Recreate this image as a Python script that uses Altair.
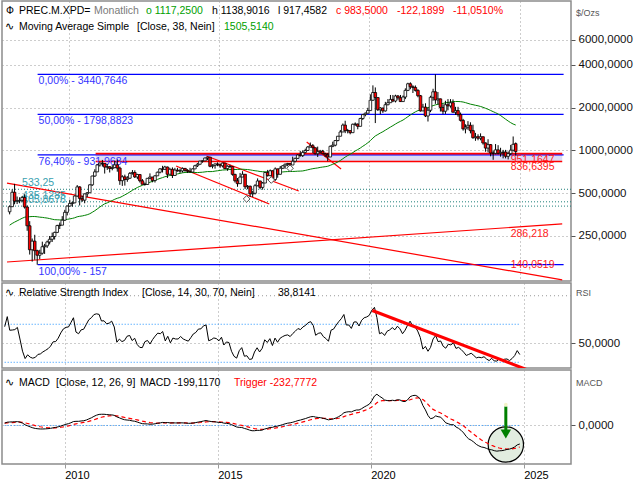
import altair as alt
import pandas as pd
import numpy as np

FONT = "Liberation Sans"

# ---------------- data ----------------
# monthly closes Jan 2004 - Dec 2007 (only used to warm up the indicators)
warmup_close = [
    224, 245, 280, 300, 247, 222, 215, 218, 212, 222, 207, 185,
    186, 189, 198, 200, 187, 187, 191, 192, 200, 237, 267, 254,
    290, 296, 340, 375, 365, 316, 324, 339, 316, 324, 336, 326,
    348, 350, 355, 372, 372, 364, 360, 336, 345, 372, 350, 370,
]

# monthly bars Jan 2008 - Nov 2024
bar_close = [
    402, 508, 440, 442, 446, 467, 400, 295, 200, 230, 197, 183,
    189, 210, 213, 227, 237, 248, 265, 296, 298, 323, 367, 406,
    424, 428, 478, 554, 460, 447, 495, 504, 573, 661, 707, 791,
    815, 811, 764, 768, 747, 757, 792, 752, 613, 652, 625, 638,
    690, 700, 651, 677, 612, 578, 576, 637, 650, 614, 663, 703,
    742, 737, 765, 680, 737, 667, 728, 718, 718, 748, 725, 714,
    705, 742, 781, 800, 842, 845, 885, 898, 774, 785, 804, 799,
    780, 815, 746, 775, 770, 679, 612, 584, 650, 680, 555, 560,
    495, 500, 565, 610, 550, 590, 700, 665, 720, 625, 742, 680,
    750, 780, 800, 810, 790, 840, 880, 930, 920, 970, 1000, 1058,
    1080, 1046, 949, 980, 990, 950, 930, 900, 1070, 1090, 1175, 1260,
    1350, 1510, 1380, 1380, 1335, 1530, 1535, 1480, 1680, 1790, 1830, 1910,
    2260, 2560, 2360, 1935, 1990, 1900, 2100, 2170, 2290, 2230, 2420, 2350,
    2210, 2380, 2650, 2950, 2810, 2780, 2650, 2430, 1900, 2020, 1750, 1920,
    2370, 2590, 2270, 2310, 2010, 1890, 2100, 2060, 2170, 1860, 1910, 1790,
    1630, 1420, 1460, 1505, 1380, 1230, 1250, 1220, 1250, 1130, 1040, 1100,
    960, 955, 1010, 955, 970, 975, 910, 950, 1005, 1105.69, 983.5,
]
bar_high = [
    410, 532, 582, 474, 468, 478, 492, 410, 318, 240, 255, 200,
    200, 228, 220, 232, 250, 264, 268, 300, 311, 345, 382, 410,
    450, 436, 482, 571, 560, 480, 498, 510, 577, 664, 738, 800,
    826, 858, 812, 805, 775, 789, 847, 863, 770, 670, 676, 660,
    705, 728, 725, 685, 680, 630, 595, 640, 690, 652, 670, 710,
    752, 780, 780, 770, 755, 760, 755, 755, 745, 760, 753, 738,
    755, 748, 792, 815, 845, 850, 890, 905, 899, 800, 810, 825,
    810, 820, 818, 786, 795, 775, 685, 640, 695, 715, 680, 571,
    566, 520, 580, 636, 612, 600, 705, 730, 735, 724, 760, 745,
    778, 789, 810, 818, 810, 905, 890, 940, 994, 1000, 1030, 1071,
    1138, 1110, 1045, 1065, 1010, 1010, 965, 960, 1085, 1153, 1186, 1266,
    1395, 1550, 1620, 1420, 1385, 1547, 1576, 1550, 1700, 1808, 1851, 1998,
    2485, 2875, 2780, 2300, 2020, 2000, 2200, 2300, 2460, 2460, 2470, 2460,
    2460, 2440, 2740, 3000, 3020, 2880, 2870, 2700, 2460, 2130, 2150, 2000,
    2430, 2720, 3440.76, 2580, 2320, 2120, 2240, 2300, 2300, 2290, 2030, 2030,
    1850, 1670, 1530, 1610, 1580, 1520, 1330, 1300, 1320, 1250, 1140, 1200,
    1110, 1000, 1110, 1090, 1045, 1010, 1010, 985, 1095, 1255, 1138.9016,
]
bar_low = [
    355, 400, 418, 420, 425, 432, 390, 272, 185, 165, 170, 157,
    172, 185, 187, 206, 218, 227, 236, 262, 280, 302, 320, 349,
    405, 402, 425, 473, 410, 435, 425, 470, 503, 563, 652, 705,
    770, 772, 688, 730, 700, 725, 750, 709, 573, 563, 566, 602,
    630, 676, 640, 628, 595, 577, 565, 575, 629, 597, 595, 670,
    690, 700, 730, 640, 680, 640, 665, 710, 695, 700, 708, 695,
    703, 700, 740, 765, 795, 820, 843, 856, 762, 748, 745, 775,
    755, 760, 740, 720, 755, 665, 595, 555, 585, 650, 535, 534,
    470, 470, 490, 560, 533, 530, 590, 655, 660, 608, 610, 643,
    677, 740, 744, 775, 760, 790, 825, 874, 905, 900, 955, 997,
    1050, 960, 935, 900, 953, 940, 900, 840, 950, 1055, 1070, 1160,
    1260, 1350, 1325, 1320, 1300, 1335, 1490, 1410, 1480, 1640, 1740, 1828,
    1920, 2230, 1560, 1900, 1800, 1840, 1880, 2080, 2200, 2190, 2180, 2275,
    2200, 2230, 2300, 2620, 2700, 2540, 2600, 2370, 1880, 1910, 1720, 1600,
    1860, 2240, 2130, 2110, 1880, 1800, 1810, 1920, 2000, 1850, 1780, 1730,
    1600, 1380, 1320, 1400, 1320, 1210, 1170, 1180, 1180, 1100, 980, 970,
    910, 860, 940, 940, 905, 880, 880, 865, 930, 985, 917.4582,
]
last_open = 1117.25

# Fibonacci levels
fib_levels = [3440.7646, 1798.8823, 931.9684, 157.0]
fib_labels = ["0,00% - 3440,7646", "50,00% - 1798,8823", "76,40% - 931,9684", "100,00% - 157"]
# resistance band
band_levels = [951.1647, 836.6395]
band_labels = ["951,1647", "836,6395"]
# dotted support levels
support_levels = [533.25, 435.1285, 405.8676]
support_labels = ["533,25", "435,1285", "405,8676"]
# trend lines (start date, start value, end date, end value)
trend_start = ["2007-12-14", "2007-12-14", "2013-07-29", "2014-08-03", "2017-12-02"]
trend_start_val = [589, 164, 777, 914, 1147]
trend_end = ["2026-06-03", "2026-06-03", "2016-09-04", "2017-08-28", "2019-01-24"]
trend_end_val = [122.6, 304, 420, 518, 740]
trend_value_labels = ["286,218", "140,0519"]
trend_value_at = [286.218, 140.0519]
# fractal markers
marker_dates = ["2015-12-04", "2016-09-28", "2017-05-14"]
marker_vals = [456, 620, 750]
# RSI trend line
rsi_trend_dates = ["2020-01-20", "2025-02-01"]
rsi_trend_vals = [84.5, 22.5]
# MACD annotation (circle centre, arrow from / to)
note_date = "2024-06-01"
note_circle_val = -205
note_arrow_vals = [205, -65]
note_head_val = -92
note_dot_val = 225

price_ticks = [250, 500, 1000, 2000, 4000, 6000]
year_ticks = [2010, 2015, 2020, 2025]

# ---------------- derived ----------------
closes_all = pd.Series(warmup_close + bar_close, dtype=float)
ma38 = closes_all.rolling(38).mean()
delta = closes_all.diff()
avg_g = delta.clip(lower=0).ewm(alpha=1 / 14, adjust=False).mean()
avg_l = (-delta.clip(upper=0)).ewm(alpha=1 / 14, adjust=False).mean()
rsi = 100 - 100 / (1 + avg_g / avg_l)
macd = closes_all.ewm(span=12, adjust=False).mean() - closes_all.ewm(span=26, adjust=False).mean()
trig = macd.ewm(span=9, adjust=False).mean()
nw = len(warmup_close)
n = len(bar_close)

dates = pd.date_range("2008-01-01", periods=n, freq="MS") + pd.Timedelta(days=14)
opens = list(closes_all.iloc[nw - 1:nw - 1 + n])
opens[-1] = last_open
df = pd.DataFrame({
    "date": dates,
    "open": opens,
    "close": bar_close,
    "high": bar_high,
    "low": bar_low,
    "ma": ma38.iloc[nw:].values,
    "rsi": rsi.iloc[nw:].values,
    "macd": macd.iloc[nw:].values,
    "trig": trig.iloc[nw:].values,
})
df["high"] = df[["high", "open", "close"]].max(axis=1)
df["low"] = df[["low", "open", "close"]].min(axis=1)
df["dir"] = np.where(df["close"] >= df["open"], "up", "down")
first_date, last_date = df["date"].iloc[0], df["date"].iloc[-1]

# ---------------- layout ----------------
W = 569
H_MAIN, H_RSI, H_MACD = 280, 85, 94
TS = 10.5  # text size
X_DOMAIN = [alt.DateTime(year=2007, month=12, date=14), alt.DateTime(year=2026, month=7, date=19)]
YT = [alt.DateTime(year=y, month=1, date=1) for y in year_ticks]
XS = alt.Scale(domain=X_DOMAIN, nice=False)
GRID = dict(grid=True, gridDash=[1, 3], gridColor="#9a9a9a", gridWidth=1)
LBL = "replace(format(datum.value, '.4f'), '.', ',')"

YS_MAIN = alt.Scale(type="log", domain=[120.5, 11290], nice=False)
YS_RSI = alt.Scale(domain=[24.0, 113.4], nice=False, zero=False)
YS_MACD = alt.Scale(domain=[-416, 599], nice=False, zero=False)

XAX_TOP = alt.Axis(values=YT, labels=False, ticks=False, domain=False, title=None, **GRID)
XAX_BOT = alt.Axis(values=YT, format="%Y", labelAlign="left", labelPadding=1, tickSize=4,
                   tickColor="#9a9a9a", domain=False, title=None, labelFont=FONT,
                   labelFontSize=11, labelColor="black", **GRID)


def yax(values):
    return alt.Axis(orient="right", values=values, labelExpr=LBL, tickSize=4, tickColor="#555",
                    labelPadding=3, domain=False, title=None, labelFont=FONT, labelFontSize=11.5,
                    labelColor="#111", **GRID)


YAX_MAIN = yax(price_ticks)
YAX_RSI = yax([50])
YAX_MACD = yax([0])


def txt(label, px, py, color="black", size=TS, align="left", baseline="middle"):
    return alt.Chart(pd.DataFrame({"label": [label]})).mark_text(
        align=align, baseline=baseline, font=FONT, fontSize=size, color=color
    ).encode(x=alt.value(px), y=alt.value(py), text="label:N")


def X(field, ax):
    return alt.X(field, type="temporal", scale=XS, axis=ax)


# ---------------- main panel ----------------
base = alt.Chart(df)


def YM(field):
    return alt.Y(field, type="quantitative", scale=YS_MAIN, axis=YAX_MAIN)


band = alt.Chart(pd.DataFrame({"x0": ["2010-11-25"], "x1": ["2026-06-03"],
                               "y0": [band_levels[1]], "y1": [band_levels[0]]})).mark_rect(
    color="#dcdcf6").encode(x=X("x0", XAX_TOP), x2="x1:T", y=YM("y0"), y2="y1:Q")

sup_df = pd.DataFrame({"lvl": support_levels, "label": support_labels, "d": ["2008-06-14"] * 3})
sup_lines = alt.Chart(sup_df).mark_rule(color="#1f7f7a", strokeDash=[1, 2], strokeWidth=1).encode(
    y=YM("lvl"))
sup_text = alt.Chart(sup_df).mark_text(align="left", baseline="bottom", dy=-1, font=FONT,
                                       fontSize=TS, color="#3a9fb0").encode(
    x=X("d", XAX_TOP), y=YM("lvl"), text="label:N")

fib_df = pd.DataFrame({"lvl": fib_levels, "label": fib_labels,
                       "x0": ["2008-12-20"] * 4, "x1": ["2026-06-20"] * 4})
fib_lines = alt.Chart(fib_df).mark_rule(color="#0000ff", strokeWidth=1.2).encode(
    x=X("x0", XAX_TOP), x2="x1:T", y=YM("lvl"))
fib_text = alt.Chart(fib_df).mark_text(align="left", baseline="top", dx=1, dy=2, font=FONT,
                                       fontSize=TS, color="#3535ff").encode(
    x=X("x0", XAX_TOP), y=YM("lvl"), text="label:N")

band_df = pd.DataFrame({"lvl": band_levels, "label": band_labels,
                        "x0": ["2010-11-25"] * 2, "x1": ["2026-06-03"] * 2, "lx": ["2024-09-15"] * 2})
band_lines = alt.Chart(band_df).mark_rule(color="#ff0000", strokeWidth=1.6).encode(
    x=X("x0", XAX_TOP), x2="x1:T", y=YM("lvl"))
band_text = alt.Chart(band_df).mark_text(align="left", baseline="top", dy=1, font=FONT,
                                         fontSize=TS, color="#ff2020").encode(
    x=X("lx", XAX_TOP), y=YM("lvl"), text="label:N")

tr_df = pd.DataFrame({"x0": trend_start, "y0": trend_start_val, "x1": trend_end, "y1": trend_end_val})
trend_lines = alt.Chart(tr_df).mark_rule(color="#ff0000", strokeWidth=1.2, clip=True).encode(
    x=X("x0", XAX_TOP), x2="x1:T", y=YM("y0"), y2="y1:Q")
tv_df = pd.DataFrame({"v": trend_value_at, "label": trend_value_labels, "lx": ["2024-09-15"] * 2})
tv_text_top = alt.Chart(tv_df.iloc[:1]).mark_text(align="left", baseline="top", dy=1, font=FONT,
                                                  fontSize=TS, color="#ff2020").encode(
    x=X("lx", XAX_TOP), y=YM("v"), text="label:N")
tv_text_bot = alt.Chart(tv_df.iloc[1:]).mark_text(align="left", baseline="bottom", dy=-2, font=FONT,
                                                  fontSize=TS, color="#ff2020").encode(
    x=X("lx", XAX_TOP), y=YM("v"), text="label:N")

ma_line = base.mark_line(color="#008000", strokeWidth=1).encode(x=X("date", XAX_TOP), y=YM("ma"))
wicks = base.mark_rule(color="black", strokeWidth=1).encode(
    x=X("date", XAX_TOP), y=YM("low"), y2="high:Q")
bodies = base.mark_bar(size=2.6, stroke="black", strokeWidth=0.8).encode(
    x=X("date", XAX_TOP), y=YM("open"), y2="close:Q",
    fill=alt.Fill("dir:N", scale=alt.Scale(domain=["up", "down"], range=["white", "#ff0000"]), legend=None))
markers = alt.Chart(pd.DataFrame({"d": marker_dates, "v": marker_vals})).mark_point(
    shape="diamond", filled=True, fill="white", stroke="#505050", strokeWidth=1, size=45, opacity=1).encode(
    x=X("d", XAX_TOP), y=YM("v"))

main_hdr = [
    txt("Ф", 4, 10), txt("PREC.M.XPD=", 17, 10), txt("Monatlich", 92, 10, "#7a7a7a"),
    txt("o 1117,2500", 144, 10, "#00a000"), txt("h 1138,9016", 210, 10),
    txt("l 917,4582", 276, 10), txt("c 983,5000", 334, 10, "#ff0000"),
    txt("-122,1899", 395, 10, "#ff0000"), txt("-11,0510%", 451, 10, "#ff0000"),
    txt("∿", 3, 26), txt("Moving Average Simple", 17, 26), txt("[Close, 38, Nein]", 135, 26),
    txt("1505,5140", 222, 26, "#00a000"),
    txt("$/Ozs", W + 5, 12, "#555", 9),
]

main = alt.layer(band, sup_lines, fib_lines, band_lines, trend_lines, fib_text, sup_text, ma_line,
                 wicks, bodies, markers, band_text, tv_text_top, tv_text_bot, *main_hdr).properties(
    width=W, height=H_MAIN)


# ---------------- RSI panel ----------------
def YR(field):
    return alt.Y(field, type="quantitative", scale=YS_RSI, axis=YAX_RSI)


rsi_band_df = pd.DataFrame({"v": [70, 30], "x0": [first_date] * 2, "x1": [last_date] * 2})
rsi_levels = alt.Chart(rsi_band_df).mark_rule(color="#1e90ff", strokeDash=[1, 2], strokeWidth=1).encode(
    x=X("x0", XAX_TOP), x2="x1:T", y=YR("v"))
rsi_grid100 = alt.Chart(pd.DataFrame({"v": [100]})).mark_rule(
    color="#9a9a9a", strokeDash=[1, 3]).encode(y=YR("v"))
rsi_line = base.mark_line(color="black", strokeWidth=1).encode(x=X("date", XAX_TOP), y=YR("rsi"))
rsi_tr = alt.Chart(pd.DataFrame({"x0": [rsi_trend_dates[0]], "x1": [rsi_trend_dates[1]],
                                 "y0": [rsi_trend_vals[0]], "y1": [rsi_trend_vals[1]]})).mark_rule(
    color="#ff0000", strokeWidth=3, clip=True).encode(
    x=X("x0", XAX_TOP), x2="x1:T", y=YR("y0"), y2="y1:Q")
rsi_hdr = [txt("∿", 3, 10), txt("Relative Strength Index", 17, 10),
           txt("[Close, 14, 30, 70, Nein]", 140, 10), txt("38,8141", 276, 10),
           txt("RSI", W + 5, 10, "#555", 9)]
rsi_panel = alt.layer(rsi_grid100, rsi_levels, rsi_line, rsi_tr, *rsi_hdr).properties(
    width=W, height=H_RSI)


# ---------------- MACD panel ----------------
def YC(field):
    return alt.Y(field, type="quantitative", scale=YS_MACD, axis=YAX_MACD)


zero_df = pd.DataFrame({"v": [0], "x0": [first_date], "x1": [last_date]})
macd_zero = alt.Chart(zero_df).mark_rule(color="#1e90ff", strokeDash=[1, 2], strokeWidth=1).encode(
    x=X("x0", XAX_BOT), x2="x1:T", y=YC("v"))
circle = alt.Chart(pd.DataFrame({"d": [note_date], "v": [note_circle_val]})).mark_point(
    shape="circle", filled=True, fill="#e2ede0", stroke="black", strokeWidth=1.2, size=1250,
    opacity=1).encode(x=X("d", XAX_BOT), y=YC("v"))
macd_line = base.mark_line(color="black", strokeWidth=1).encode(x=X("date", XAX_BOT), y=YC("macd"))
trig_line = base.mark_line(color="#ff0000", strokeWidth=1.2, strokeDash=[4, 3]).encode(
    x=X("date", XAX_BOT), y=YC("trig"))
arrow_shaft = alt.Chart(pd.DataFrame({"d": [note_date], "v0": [note_arrow_vals[0]],
                                      "v1": [note_arrow_vals[1]]})).mark_rule(
    color="#008000", strokeWidth=3).encode(x=X("d", XAX_BOT), y=YC("v0"), y2="v1:Q")
arrow_head = alt.Chart(pd.DataFrame({"d": [note_date], "v": [note_head_val]})).mark_point(
    shape="triangle-down", filled=True, color="#008000", size=110, opacity=1).encode(
    x=X("d", XAX_BOT), y=YC("v"))
arrow_dot = alt.Chart(pd.DataFrame({"d": [note_date], "v": [note_dot_val]})).mark_point(
    shape="circle", filled=True, color="#f4f4c8", size=14, opacity=1).encode(
    x=X("d", XAX_BOT), y=YC("v"))
macd_hdr = [txt("∿", 3, 13), txt("MACD", 17, 13), txt("[Close, 12, 26, 9]", 54, 13),
            txt("MACD -199,1170", 138, 13), txt("Trigger -232,7772", 232, 13, "#ff0000"),
            txt("MACD", W + 5, 13, "#555", 9)]
macd_panel = alt.layer(macd_zero, circle, trig_line, macd_line, arrow_shaft, arrow_head, arrow_dot,
                       *macd_hdr).properties(width=W, height=H_MACD)

chart = alt.vconcat(main, rsi_panel, macd_panel, spacing=0).properties(
    padding={"left": 0, "top": 0, "right": 0, "bottom": 0}, background="white"
).configure_view(stroke="#8c8c8c", strokeWidth=1.5)

chart.save("out.html", embed_options={"renderer": "svg", "actions": False})
